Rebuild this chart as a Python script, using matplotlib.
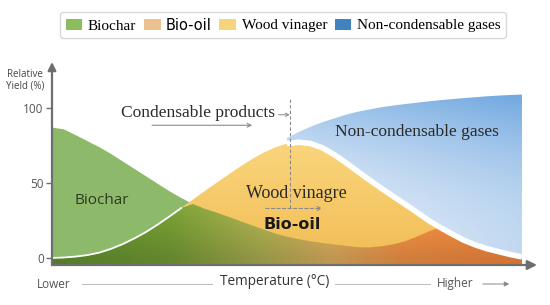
import numpy as np
import matplotlib
matplotlib.use("Agg")
import matplotlib.pyplot as plt
from matplotlib.patches import Patch, PathPatch, FancyArrowPatch

# Temperature axis, 0 = lower, 100 = higher (arbitrary units)
temp = np.arange(0, 100.1, 2.5)

# Relative yields (%)
biochar = np.array([87, 85.8, 82, 78, 74, 69.5, 64.5, 59.5, 54.5, 49.5, 44.5, 40, 36, 32.8, 30.3, 27.5,
                    24.6, 21.8, 19, 16.3, 14.2, 12.5, 11.2, 10, 9, 8.1, 7.2, 6.3, 5.5, 4.8, 4.1, 3.5,
                    3, 2.5, 2, 1.6, 1.2, 0.9, 0.6, 0.3, 0])
wood_vinegar = np.array([0, 0.3, 0.9, 1.9, 3.5, 6, 9.2, 13, 17.3, 22.3, 27.7, 33.3, 39, 44.6, 50.1, 55.5,
                         60.8, 65.8, 70.2, 73.8, 76.3, 77.2, 76.3, 73.5, 69, 63.6, 57.8, 52.1, 46.6,
                         41.3, 36.1, 30.8, 25.3, 19.9, 14.8, 10.4, 7, 4.5, 2.6, 1.2, 0.4])
bio_oil = np.array([0, 0.5, 1, 1.5, 2, 2.5, 3, 3.3, 3.6, 4, 4.3, 4.6, 5, 5.2, 5.4, 5.6, 5.8, 6, 6, 6, 6,
                    6, 6, 6, 6.2, 6.4, 6.7, 7, 7.8, 9, 11, 14, 17.5, 20.5, 16.2, 12, 8.8, 6.2, 4.2, 2.3, 0.7])
gas_temp = np.arange(50, 100.1, 2.5)
gas_top = np.array([80, 84, 87.5, 90.5, 93, 95.5, 97.5, 99, 100.5, 101.6, 102.6, 103.5, 104.4, 105.2,
                    105.9, 106.6, 107.2, 107.8, 108.3, 108.7, 109])

legend_labels = ["Biochar", "Bio-oil", "Wood vinager", "Non-condensable gases"]
legend_colors = ["#8bbd5e", "#ecc18f", "#f7d47a", "#4083c0"]

SERIF = ["Liberation Serif", "DejaVu Serif"]
SANS = ["Open Sans", "DejaVu Sans"]
YMIN, YMAX = -4.7, 130.7
XMAX = 103.2


def stops(vals, pos, colors):
    c = np.array(colors) / 255.0
    return np.stack([np.interp(vals, pos, c[:, i]) for i in range(3)], axis=-1)


def grad_fill(ax, x, lo, hi, img, z):
    poly = ax.fill_between(x, lo, hi, facecolor="none", edgecolor="none")
    patch = PathPatch(poly.get_paths()[0], transform=ax.transData, fc="none", ec="none")
    ax.add_patch(patch)
    im = ax.imshow(img, extent=[0, 100, YMIN, YMAX], origin="lower", aspect="auto",
                   zorder=z, interpolation="bilinear")
    im.set_clip_path(patch)


fig = plt.figure(figsize=(5.5, 3.05), dpi=100)
fig.patch.set_facecolor("white")
ax = fig.add_axes([52 / 550, 40 / 305, 485 / 550, 203 / 305])
ax.set_xlim(0, XMAX)
ax.set_ylim(YMIN, YMAX)

gx = np.linspace(0, 100, 300)
gy = np.linspace(YMIN, YMAX, 300)
X, Y = np.meshgrid(gx, gy)

# non-condensable gases (blue, darker to the upper right)
t = np.clip(0.35 * (X - 50) / 50 + 0.7 * (Y / 110) ** 2, 0, 1)[..., None]
light = np.array([236, 242, 250]) / 255.0
dark = np.array([116, 170, 225]) / 255.0
blue_img = light * (1 - t) + dark * t
cond_top = np.maximum(wood_vinegar, bio_oil)
hot = temp >= 50
grad_fill(ax, gas_temp, cond_top[hot], gas_top, blue_img, 1)

# wood vinegar (yellow)
ty = np.clip(Y / 80, 0, 1)[..., None]
yel_img = (np.array([242, 190, 86]) * (1 - ty) + np.array([250, 214, 126]) * ty) / 255.0
grad_fill(ax, temp, YMIN, wood_vinegar, yel_img, 2)

# biochar above the wood vinegar curve (light green)
ax.fill_between(temp, wood_vinegar, biochar, where=biochar >= wood_vinegar - 1,
                interpolate=True, color="#8db96a", lw=0, zorder=3)

# bottom band: biochar under the curves, blending into bio-oil
band_top = np.maximum(np.minimum(biochar, wood_vinegar), bio_oil)
band = stops(X, [0, 25, 45, 60, 75, 100],
             [(92, 140, 44), (112, 150, 50), (168, 168, 78), (214, 168, 92), (233, 140, 66), (234, 128, 58)])
shade = (0.9 + 0.22 * np.clip(Y / 40, 0, 1))[..., None]
band_img = np.clip(band * shade, 0, 1)
grad_fill(ax, temp, YMIN, band_top, band_img, 4)

# white separations
left = temp <= 29
ax.plot(temp[left], wood_vinegar[left], color="white", lw=1.3, zorder=5)
ax.plot(temp[hot], cond_top[hot], color="white", lw=4, zorder=5, solid_capstyle="butt")

# axes with arrows
for s in ax.spines.values():
    s.set_visible(False)
acol = "#6e6e6e"
ax.annotate("", xy=(XMAX, YMIN), xytext=(0, YMIN), annotation_clip=False,
            arrowprops=dict(arrowstyle="-|>", color=acol, lw=1.6, mutation_scale=14, shrinkA=0, shrinkB=0),
            zorder=6)
ax.annotate("", xy=(0, YMAX), xytext=(0, YMIN), annotation_clip=False,
            arrowprops=dict(arrowstyle="-|>", color=acol, lw=1.6, mutation_scale=12, shrinkA=0, shrinkB=0),
            zorder=6)
ax.set_xticks([])
ax.set_yticks([0, 50, 100])
ax.tick_params(axis="y", length=4, width=1, color=acol, labelsize=8.5, labelcolor="#555555", pad=2)
for lab in ax.get_yticklabels():
    lab.set_family(SANS)

# annotations inside the plot
ax.text(10.6, 38.5, "Biochar", family=SANS, fontsize=11, color="#2d3a1f", ha="center", va="center", zorder=7)
ax.text(52, 43, "Wood vinagre", family=SERIF, fontsize=13, color="#2a2a2a", ha="center", va="center", zorder=7)
ax.text(51.1, 22, "Bio-oil", family="DejaVu Sans", fontweight="bold", fontsize=11.5, color="#1a1a1a",
        ha="center", va="center", zorder=7)
ax.text(77.7, 84, "Non-condensable gases", family=SERIF, fontsize=12.5, color="#2a2a2a",
        ha="center", va="center", zorder=7)
ax.text(31.1, 97, "Condensable products", family=SERIF, fontsize=12.5, color="#2a2a2a",
        ha="center", va="center", zorder=7)

gcol = "#8a8a8a"
ax.plot([50.6, 50.6], [33, 107], color=gcol, lw=0.8, ls=(0, (3, 2)), zorder=6)
ax.annotate("", xy=(58.1, 33), xytext=(44.9, 33),
            arrowprops=dict(arrowstyle="->", color=gcol, lw=0.8, ls=(0, (3, 2)), mutation_scale=7), zorder=6)
ax.annotate("", xy=(50.6, 95.5), xytext=(48.2, 95.5),
            arrowprops=dict(arrowstyle="->", color=gcol, lw=0.7, mutation_scale=6, shrinkA=0, shrinkB=0), zorder=6)
ax.annotate("", xy=(42.6, 88.5), xytext=(21.3, 88.5),
            arrowprops=dict(arrowstyle="->", color=gcol, lw=0.8, mutation_scale=7, shrinkA=0, shrinkB=0), zorder=6)

# y label
fig.text(25 / 550, 1 - 80 / 305, "Relative\nYield (%)", family=SANS, fontsize=7, color="#444444",
         ha="center", va="center", linespacing=1.1)

# bottom temperature labels
yb = 1 - 284 / 305
fig.text(54 / 550, yb, "Lower", family=SANS, fontsize=8.5, color="#555555", ha="center", va="center")
fig.text(275 / 550, yb + 0.008, "Temperature (\u00b0C)", family=SANS, fontsize=9.8, color="#333333",
         ha="center", va="center")
fig.text(455 / 550, yb, "Higher", family=SANS, fontsize=8.5, color="#555555", ha="center", va="center")
fig.add_artist(plt.Line2D([82 / 550, 212 / 550], [yb, yb], color="#bbbbbb", lw=0.7))
fig.add_artist(plt.Line2D([335 / 550, 430 / 550], [yb, yb], color="#bbbbbb", lw=0.7))
fig.add_artist(FancyArrowPatch((480 / 550, yb), (512 / 550, yb), transform=fig.transFigure,
                               arrowstyle="-|>", color="#888888", lw=0.7, mutation_scale=7))

# legend
handles = [Patch(facecolor=c, edgecolor="none") for c in legend_colors]
leg = fig.legend(handles, legend_labels, loc="center", bbox_to_anchor=(283 / 550, 1 - 25 / 305), ncol=4,
                 prop={"family": SERIF, "size": 11}, handlelength=1.1, handleheight=0.75,
                 handletextpad=0.35, columnspacing=0.5, borderpad=0.35, fancybox=True,
                 edgecolor="#d8d8d8", framealpha=1)
leg.get_texts()[1].set_family("DejaVu Sans")
leg.get_texts()[1].set_fontsize(10.5)

fig.savefig("out.png", dpi=100)
